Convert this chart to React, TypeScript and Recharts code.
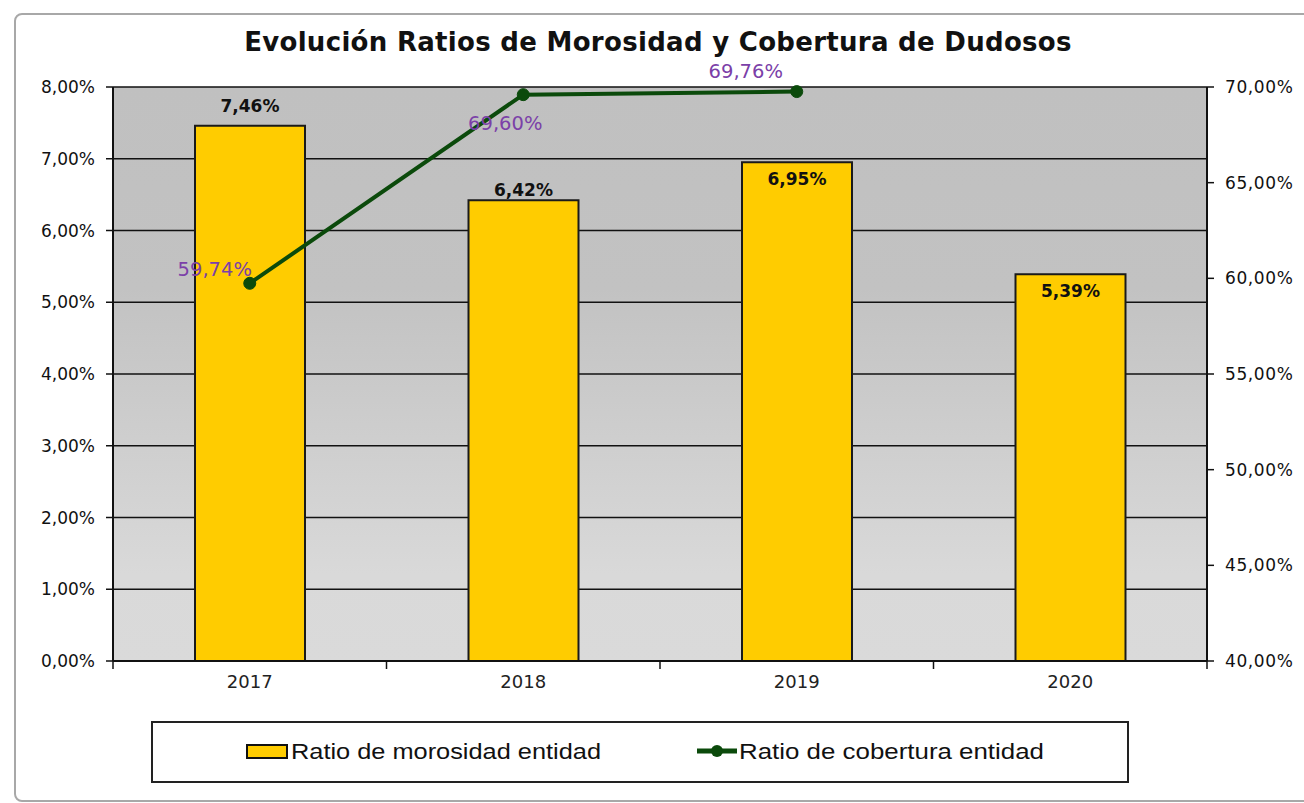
import { ComposedChart, Bar, Line, XAxis, YAxis, CartesianGrid, LabelList } from "recharts";

const years = ["2017", "2018", "2019", "2020"];
const morosidad = [7.46, 6.42, 6.95, 5.39];
const cobertura: (number | null)[] = [59.74, 69.6, 69.76, null];
const leftTicks = [0, 1, 2, 3, 4, 5, 6, 7, 8];
const rightTicks = [40, 45, 50, 55, 60, 65, 70];

const title = "Evolución Ratios de Morosidad y Cobertura de Dudosos";
const barName = "Ratio de morosidad entidad";
const lineName = "Ratio de cobertura entidad";

const data = years.map((year, i) => ({
  year,
  morosidad: morosidad[i],
  cobertura: cobertura[i],
}));

// label nudges, the original labels were dragged around by hand
const barLabelDy = [-20, -10, 17, 17];
const lineLabelShift = [
  [-35, -14],
  [-18, 29],
  [-51, -20],
];

const W = 1304;
const H = 803;
const LEFT_W = 113;
const RIGHT_W = 97;
const X_TICK_GAP = 14;
const bandWidth = (W - LEFT_W - RIGHT_W) / years.length;

const YELLOW = "#FFCC00";
const GREEN = "#0b4a0b";
const PURPLE = "#7b40a8";
const FONT = "'DejaVu Sans', Verdana, sans-serif";

const pct = (v: number) => v.toFixed(2).replace(".", ",") + "%";

// year label + Excel style tick marks between categories
const YearTick = (props: any) => {
  const { x, y, payload, index } = props;
  const top = y - X_TICK_GAP;
  const left = x - bandWidth / 2;
  return (
    <g>
      <line x1={left} y1={top - 1} x2={left} y2={top + 8} stroke="#111" strokeWidth={1.5} />
      {index === years.length - 1 && (
        <line x1={left + bandWidth} y1={top - 1} x2={left + bandWidth} y2={top + 8} stroke="#111" strokeWidth={1.5} />
      )}
      <text x={x} y={y} dy="0.71em" textAnchor="middle" fill="#222" fontSize={18} fontFamily={FONT}>
        {payload.value}
      </text>
    </g>
  );
};

const BarLabel = (props: any) => {
  const { x, y, width, value } = props;
  const i = props.index ?? morosidad.indexOf(value);
  return (
    <text
      x={x + width / 2}
      y={y + barLabelDy[i]}
      textAnchor="middle"
      dominantBaseline="central"
      fontFamily={FONT}
      fontWeight="bold"
      fontSize={17}
      fill="#111"
    >
      {pct(value)}
    </text>
  );
};

const LineLabel = (props: any) => {
  const { x, y, value } = props;
  if (value == null) return null;
  const i = props.index ?? cobertura.indexOf(value);
  const [dx, dy] = lineLabelShift[i] || [0, -15];
  return (
    <text
      x={x + dx}
      y={y + dy}
      textAnchor="middle"
      dominantBaseline="central"
      fontFamily={FONT}
      fontSize={19.5}
      fill={PURPLE}
    >
      {pct(value)}
    </text>
  );
};

function ChartLegend() {
  return (
    <svg
      width={978}
      height={62}
      style={{ position: "absolute", left: 151, top: 721 }}
    >
      <rect x={1} y={1} width={976} height={60} fill="#fff" stroke="#222" strokeWidth={2} />
      <rect x={96} y={24} width={40} height={13} fill={YELLOW} stroke="#111" strokeWidth={2} />
      <text
        x={140}
        y={38}
        fontFamily="'Liberation Sans', Arial, sans-serif"
        fontSize={22}
        fill="#111"
        textLength={310}
        lengthAdjust="spacingAndGlyphs"
      >
        {barName}
      </text>
      <line x1={546} y1={30} x2={586} y2={30} stroke={GREEN} strokeWidth={5} />
      <circle cx={566} cy={30} r={6} fill={GREEN} />
      <text
        x={588}
        y={38}
        fontFamily="'Liberation Sans', Arial, sans-serif"
        fontSize={22}
        fill="#111"
        textLength={305}
        lengthAdjust="spacingAndGlyphs"
      >
        {lineName}
      </text>
    </svg>
  );
}

export default function App() {
  return (
    <div
      style={{
        position: "absolute",
        left: 0,
        top: 0,
        width: W,
        height: H,
        overflow: "hidden",
        background: "#fff",
      }}
    >
      <svg width={0} height={0} style={{ position: "absolute" }}>
        <defs>
          <linearGradient id="plotBg" x1="0" y1="0" x2="0" y2="1">
            <stop offset="0%" stopColor="#c0c0c0" />
            <stop offset="35%" stopColor="#c2c2c2" />
            <stop offset="85%" stopColor="#d9d9d9" />
            <stop offset="100%" stopColor="#dadada" />
          </linearGradient>
        </defs>
      </svg>
      <div
        style={{
          position: "absolute",
          left: 14,
          top: 13,
          width: 1400,
          height: 785,
          border: "2px solid #a8a8a8",
          borderRadius: 8,
        }}
      />
      <div
        style={{
          position: "absolute",
          left: 6,
          top: 27,
          width: W,
          textAlign: "center",
          fontFamily: FONT,
          fontWeight: "bold",
          fontSize: 26,
          letterSpacing: 0.3,
          color: "#111",
        }}
      >
        {title}
      </div>
      <ComposedChart
        width={W}
        height={H}
        data={data}
        margin={{ top: 87, right: 0, bottom: 0, left: 0 }}
        style={{ position: "absolute", left: 0, top: 0 }}
      >
        <CartesianGrid
          yAxisId="left"
          vertical={false}
          stroke="#111"
          strokeWidth={1.5}
          fill="url(#plotBg)"
          fillOpacity={1}
        />
        <XAxis
          dataKey="year"
          height={142}
          tickLine={false}
          tickSize={0}
          tickMargin={X_TICK_GAP}
          axisLine={{ stroke: "#111", strokeWidth: 2 }}
          tick={<YearTick />}
        />
        <YAxis
          yAxisId="left"
          width={LEFT_W}
          domain={[0, 8]}
          ticks={leftTicks}
          tickSize={7}
          tickMargin={11}
          axisLine={{ stroke: "#111", strokeWidth: 2 }}
          tickLine={{ stroke: "#111", strokeWidth: 1.5 }}
          tick={{ fill: "#111", fontSize: 17, fontFamily: FONT }}
          tickFormatter={(v: number) => pct(v)}
        />
        <YAxis
          yAxisId="right"
          orientation="right"
          width={RIGHT_W}
          domain={[40, 70]}
          ticks={rightTicks}
          tickSize={7}
          tickMargin={11}
          axisLine={{ stroke: "#111", strokeWidth: 2 }}
          tickLine={{ stroke: "#111", strokeWidth: 1.5 }}
          tick={{ fill: "#111", fontSize: 17, fontFamily: FONT, letterSpacing: 0.6 }}
          tickFormatter={(v: number) => pct(v)}
        />
        <Bar
          yAxisId="left"
          dataKey="morosidad"
          name={barName}
          fill={YELLOW}
          stroke="#1a1a1a"
          strokeWidth={2}
          barSize={110}
          isAnimationActive={false}
        >
          <LabelList dataKey="morosidad" content={<BarLabel />} />
        </Bar>
        <Line
          yAxisId="right"
          dataKey="cobertura"
          name={lineName}
          stroke={GREEN}
          strokeWidth={4}
          dot={{ r: 6, fill: GREEN, stroke: GREEN, strokeWidth: 1 }}
          activeDot={false}
          isAnimationActive={false}
        >
          <LabelList dataKey="cobertura" content={<LineLabel />} />
        </Line>
      </ComposedChart>
      <ChartLegend />
    </div>
  );
}
